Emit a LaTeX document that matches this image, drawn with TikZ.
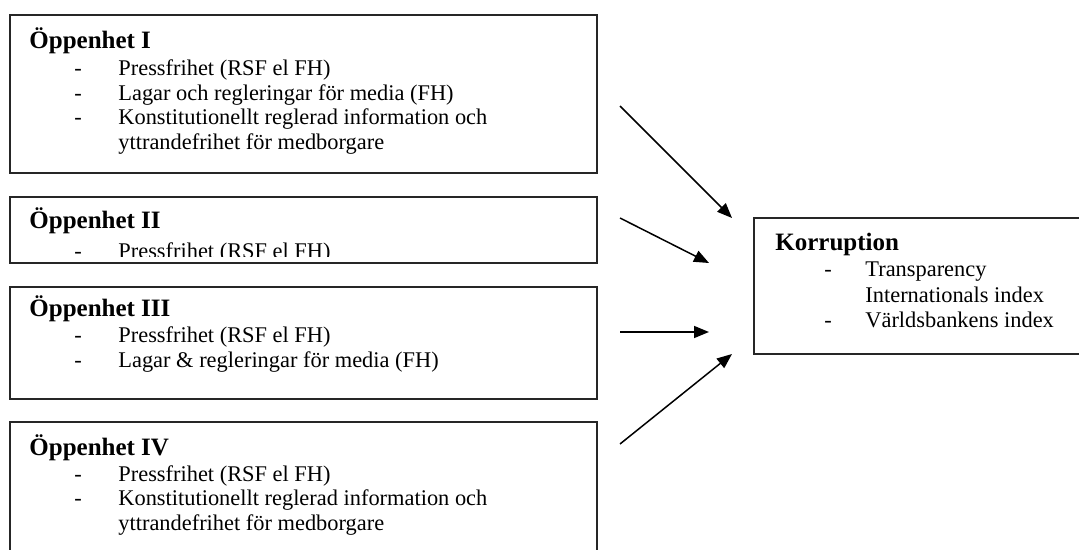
\documentclass[tikz,border=0pt]{standalone}
\usepackage{fontspec}
\setmainfont{Liberation Serif}
\usetikzlibrary{arrows.meta}
\tikzset{
  box/.style={draw=black!85, line width=1pt, rectangle, inner sep=0pt, outer sep=0pt, anchor=north west},
  ttl/.style={anchor=base west, inner sep=0pt, font=\fontsize{12.5pt}{14pt}\selectfont\bfseries},
  itm/.style={anchor=base west, inner sep=0pt, font=\fontsize{11.2pt}{13pt}\selectfont},
  conn/.style={line width=0.75pt, -{Triangle[length=7.5pt, width=6pt]}}
}
\begin{document}
\begin{tikzpicture}[x=0.5pt, y=-0.5pt]
\useasboundingbox (0,0) rectangle (1079,550);
\clip (0,0) rectangle (1079,550);
% boxes
\node[box, minimum width=293.5pt, minimum height=79pt] (b1) at (10,15) {};
\node[box, minimum width=293.5pt, minimum height=33pt] (b2) at (10,197) {};
\node[box, minimum width=293.5pt, minimum height=56pt] (b3) at (10,287) {};
\node[box, minimum width=293.5pt, minimum height=75pt] (b4) at (10,422) {};
\node[box, minimum width=175pt, minimum height=68pt] (k) at (754,218) {};
% box I
\node[ttl] (t1) at (29,49) {Öppenhet I};
\node[itm] (d11) at (74,76) {-};
\node[itm] (i11) at (118,76) {Pressfrihet (RSF el FH)};
\node[itm] (d12) at (74,101) {-};
\node[itm] (i12) at (118,101) {Lagar och regleringar för media (FH)};
\node[itm] (d13) at (74,125) {-};
\node[itm] (i13) at (118,125) {Konstitutionellt reglerad information och};
\node[itm] (i14) at (118,150) {yttrandefrihet för medborgare};
% box II
\node[ttl] (t2) at (29,229) {Öppenhet II};
\begin{scope}
\clip (11,198) rectangle (596,257);
\node[itm] (d21) at (74,258) {-};
\node[itm] (i21) at (118,258) {Pressfrihet (RSF el FH)};
\end{scope}
% box III
\node[ttl] (t3) at (29,316) {Öppenhet III};
\node[itm] (d31) at (74,342) {-};
\node[itm] (i31) at (118,342) {Pressfrihet (RSF el FH)};
\node[itm] (d32) at (74,367) {-};
\node[itm] (i32) at (118,367) {Lagar \& regleringar för media (FH)};
% box IV
\node[ttl] (t4) at (29,455) {Öppenhet IV};
\node[itm] (d41) at (74,481) {-};
\node[itm] (i41) at (118,481) {Pressfrihet (RSF el FH)};
\node[itm] (d42) at (74,505) {-};
\node[itm] (i42) at (118,505) {Konstitutionellt reglerad information och};
\node[itm] (i43) at (118,530) {yttrandefrihet för medborgare};
% Korruption
\node[ttl] (tk) at (775,251) {Korruption};
\node[itm] (dk1) at (824,277) {-};
\node[itm] (ik1) at (865,277) {Transparency};
\node[itm] (ik2) at (865,302) {Internationals index};
\node[itm] (dk2) at (824,327) {-};
\node[itm] (ik3) at (865,327) {Världsbankens index};
% arrows
\coordinate (s1) at (620,106); \coordinate (e1) at (732,218);
\coordinate (s2) at (620,218); \coordinate (e2) at (709,263);
\coordinate (s3) at (620,332); \coordinate (e3) at (709,332);
\coordinate (s4) at (620,444); \coordinate (e4) at (732,354);
\draw[conn] (s1) -- (e1);
\draw[conn] (s2) -- (e2);
\draw[conn] (s3) -- (e3);
\draw[conn] (s4) -- (e4);
\end{tikzpicture}
\end{document}
